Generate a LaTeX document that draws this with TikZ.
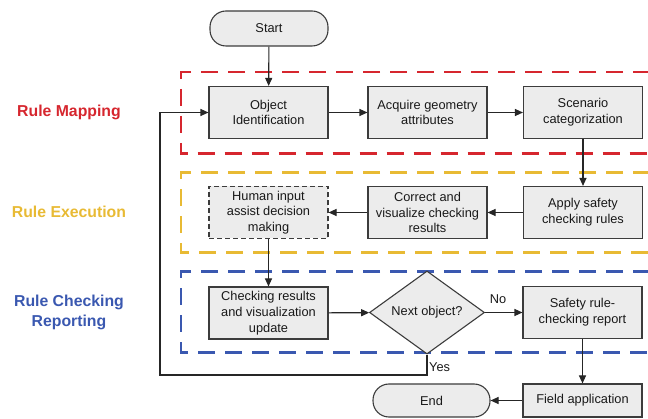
\documentclass[tikz,border=0pt]{standalone}
\usepackage{fontspec}
\setmainfont{Liberation Sans}
\usepackage{xcolor}
\usetikzlibrary{shapes,positioning,arrows.meta,calc}

\definecolor{mapred}{RGB}{214,38,46}
\definecolor{execyellow}{RGB}{232,186,52}
\definecolor{repblue}{RGB}{58,88,176}
\definecolor{boxgray}{RGB}{236,236,236}
\definecolor{linegray}{RGB}{60,60,60}

\begin{document}
\begin{tikzpicture}[x=1pt, y=-1pt,
        every node/.style={font=\fontsize{12.8}{15.7}\selectfont, align=center, text=black!90},
        box/.style={draw=linegray, fill=boxgray, line width=1.1pt,
                minimum width=119pt, minimum height=52pt, inner sep=2pt},
        dbox/.style={box, dash pattern=on 5pt off 3pt},
        term/.style={draw=linegray, fill=boxgray, line width=1.1pt, rounded corners=16pt,
                minimum width=118pt, minimum height=35pt},
        decide/.style={diamond, draw=linegray, fill=boxgray, line width=1.1pt, inner sep=0pt,
                minimum width=115pt, minimum height=66pt},
        lane/.style={dash pattern=on 17pt off 10pt, line width=2.4pt},
        lanelabel/.style={font=\fontsize{15.8}{19}\selectfont\bfseries},
        arrow/.style={-{Triangle[length=8pt,width=7pt]}, draw=black!85, line width=1.1pt}
        ]
        \useasboundingbox (0,0) rectangle (648,419);

        % ---------------- Lanes ----------------
        \draw[lane, mapred]     (650,72)  -- (181,72)  -- (181,153.5) -- (650,153.5);
        \draw[lane, execyellow] (650,172.5) -- (181,172.5) -- (181,252.5) -- (650,252.5);
        \draw[lane, repblue]    (650,271.5) -- (181,271.5) -- (181,352.5) -- (650,352.5);

        \node[lanelabel, text=mapred]     (lmap)  at (69,112)   {Rule Mapping};
        \node[lanelabel, text=execyellow] (lexec) at (69,212)   {Rule Execution};
        \node[lanelabel, text=repblue, font=\fontsize{15.8}{20}\selectfont\bfseries]
                                          (lrep)  at (69,312)   {Rule Checking\\Reporting};

        % ---------------- Main flow ----------------
        \node[term] (start)    at (269,28.5)  {Start};
        \node[box]  (objid)    at (268.5,112.5) {Object\\Identification};
        \node[box]  (acquire)  at (427.5,112.5) {Acquire geometry\\attributes};
        \node[box]  (scenario) at (583,112.5)   {Scenario\\categorization};

        \node[box]  (apply)    at (583,212.5)   {Apply safety\\checking rules};
        \node[box]  (correct)  at (427.5,212.5) {Correct and\\visualize checking\\results};
        \node[dbox] (human)    at (268.5,212.5) {Human input\\assist decision\\making};

        \node[box]    (checking) at (268.5,313) {Checking results\\and visualization\\update};
        \node[decide] (nextobj)  at (427,312.5) {Next object?};
        \node[box]    (report)   at (582.5,312.5) {Safety rule-\\checking report};

        \node[box, minimum height=33pt] (field) at (582.5,400.5) {Field application};
        \node[term, minimum width=117pt, minimum height=33pt] (finish) at (431.5,400.5) {End};

        % ---------------- Arrows ----------------
        \draw[arrow] (start)    -- (objid);
        \draw[arrow] (objid)    -- (acquire);
        \draw[arrow] (acquire)  -- (scenario);
        \draw[arrow] (scenario) -- (apply);
        \draw[arrow] (apply)    -- (correct);
        \draw[arrow] (correct)  -- (human);
        \draw[arrow] (human)    -- (checking);
        \draw[arrow] (checking) -- (nextobj);
        \draw[arrow] (nextobj)  -- node[above, pos=0.35, yshift=5pt] (no) {No} (report);
        \draw[arrow] (report)   -- (field);
        \draw[arrow] (field)    -- (finish);

        % ---------------- Next object loop ----------------
        \coordinate (loop) at (160,375);
        \draw[arrow] (nextobj.south) |- (loop) |- (objid.west);
        \node[anchor=west, inner sep=1pt] (yes) at (428,367) {Yes};

\end{tikzpicture}
\end{document}
